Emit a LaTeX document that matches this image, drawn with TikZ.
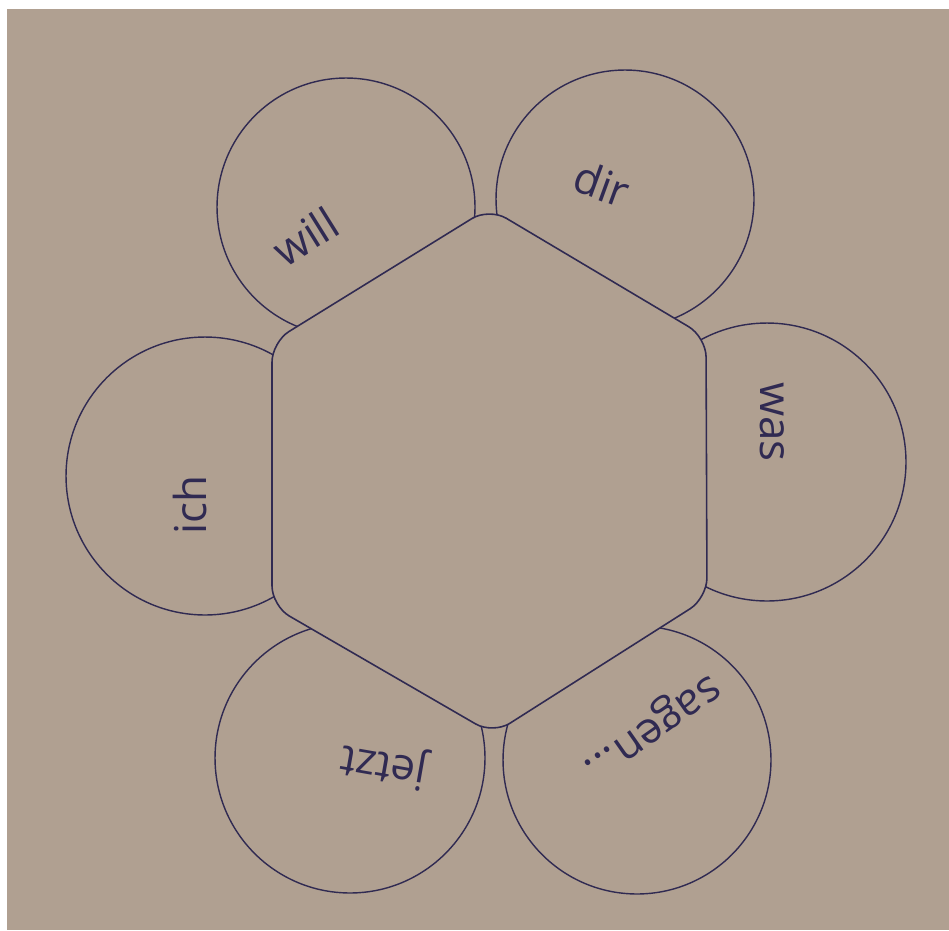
\documentclass[tikz,border=0pt]{standalone}
\usepackage{fontspec}
\setsansfont{Open Sans}
\definecolor{paper}{RGB}{176,160,145}
\definecolor{ink}{RGB}{48,42,82}

\begin{document}
\begin{tikzpicture}[
    x=0.02cm, y=-0.02cm,
    petal/.style={circle, draw=ink, line width=0.8pt, inner sep=0pt},
    word/.style={text=ink, inner sep=0pt, font=\sffamily\fontsize{25}{30}\selectfont}
  ]

  % Blatt
  \fill[white] (0,0) rectangle (949,930);
  \fill[paper] (7,9) rectangle (949,930);
  \useasboundingbox (0,0) rectangle (949,930);

  % Blütenblätter
  \node[petal, minimum size=5.16cm] (pwill)  at (346,207) {};
  \node[petal, minimum size=5.16cm] (pdir)   at (625,199) {};
  \node[petal, minimum size=5.56cm] (pwas)   at (767,462) {};
  \node[petal, minimum size=5.36cm] (psagen) at (637,760) {};
  \node[petal, minimum size=5.40cm] (pjetzt) at (350,758) {};
  \node[petal, minimum size=5.56cm] (pich)   at (205,476) {};

  % Sechseck in der Mitte
  \coordinate (h1) at (489,208);
  \coordinate (h2) at (706,337);
  \coordinate (h3) at (707,598);
  \coordinate (h4) at (493,734);
  \coordinate (h5) at (272,606);
  \coordinate (h6) at (272,342);
  \filldraw[fill=paper, draw=ink, line width=0.9pt, rounded corners=0.4cm]
    (h1) -- (h2) -- (h3) -- (h4) -- (h5) -- (h6) -- cycle;

  % Wörter
  \node[word, rotate=32]  (will)  at (305,236) {will};
  \node[word, rotate=-20] (dir)   at (602,184) {dir};
  \node[word, rotate=-90] (was)   at (772,422) {was};
  \node[word, rotate=215] (sagen) at (650,725) {sagen...};
  \node[word, rotate=170] (jetzt) at (384,764) {jetzt};
  \node[word, rotate=90]  (ich)   at (190,505) {ich};

\end{tikzpicture}
\end{document}
